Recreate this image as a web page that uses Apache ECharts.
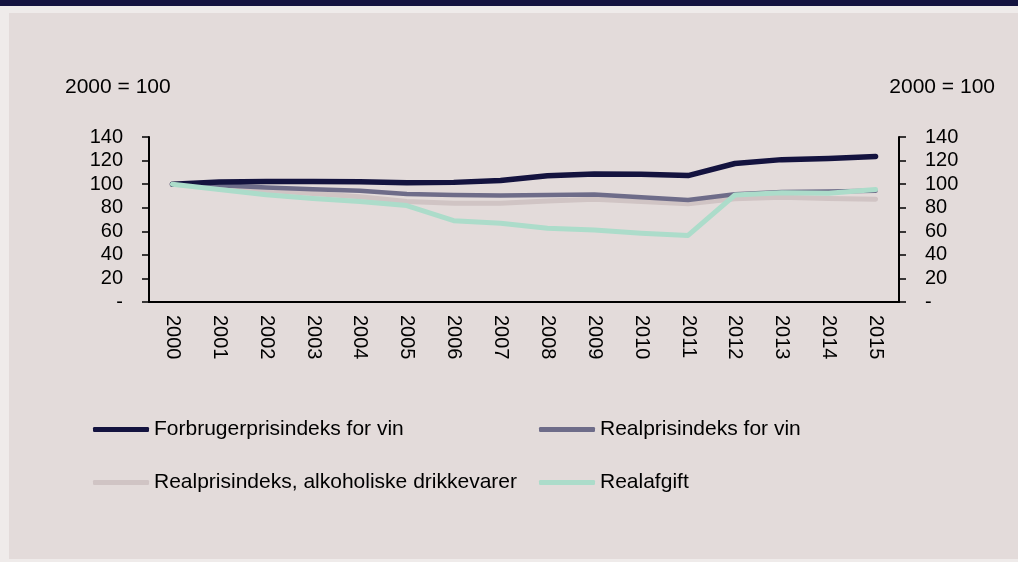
<!DOCTYPE html>
<html><head><meta charset="utf-8">
<script src="https://cdn.jsdelivr.net/npm/echarts@6/dist/echarts.min.js"></script>
<style>html,body{margin:0;padding:0;background:#efebea;}#c{width:1018px;height:562px;}</style>
</head><body><div id="c"></div>
<script>
const years = ['2000','2001','2002','2003','2004','2005','2006','2007','2008','2009','2010','2011','2012','2013','2014','2015'];
const forbrugerVin = [100, 101.8, 102.3, 102.3, 102, 101.2, 101.5, 103, 107.2, 108.6, 108.4, 107.3, 117.5, 120.8, 121.8, 123.5];
const realVin = [100, 99, 97.2, 95.6, 94.3, 91.6, 90.8, 90.4, 90.8, 91.2, 88.9, 86.5, 91.5, 93.3, 93.8, 94.3];
const realAlko = [100, 97.8, 94.8, 92, 89.3, 85.2, 83.8, 83.8, 85.7, 87.1, 85.2, 83.3, 87.5, 88.8, 87.9, 87.2];
const realafgift = [100, 95.5, 91, 87.8, 85.3, 81.8, 69, 66.8, 62.5, 61.1, 58.4, 56.5, 90.8, 92.8, 92.3, 95.4];
const yTicks = [0, 20, 40, 60, 80, 100, 120, 140];
const seriesNames = ['Forbrugerprisindeks for vin', 'Realprisindeks for vin', 'Realprisindeks, alkoholiske drikkevarer', 'Realafgift'];
const unitLabel = '2000 = 100';

const FONT = 'Liberation Sans, Arial, sans-serif';
const colors = {navy:'#14133f', gray:'#6e6c89', pale:'#d0c4c4', mint:'#acdcca'};

const chart = echarts.init(document.getElementById('c'), null, {renderer:'canvas'});
const yAxisBase = (pos) => ({
  type:'value', position:pos, min:yTicks[0], max:yTicks[yTicks.length-1], interval:20,
  axisLine:{show:true, lineStyle:{color:'#000', width:2}},
  axisTick:{show:true, inside:false, length:7, lineStyle:{color:'#000', width:1.5}},
  splitLine:{show:false},
  axisLabel:{color:'#000', fontFamily:FONT, fontSize:20, margin:26,
    align: pos==='left' ? 'right' : 'left',
    formatter:(v)=> v===0 ? '-' : String(v)}
});
const legendBase = (name, left, top) => ({
  data:[name], left:left, top:top, itemWidth:56, itemHeight:5, icon:'roundRect',
  textStyle:{color:'#000', fontFamily:FONT, fontSize:21}, padding:0, itemGap:0
});
const mkSeries = (name, data, color, width, z) => ({
  name:name, type:'line', data:data, symbol:'none', z:z,
  lineStyle:{color:color, width:width, cap:'round', join:'round'},
  itemStyle:{color:color}
});

chart.setOption({
  backgroundColor:'#efebea',
  animation:false,
  grid:{left:149, right:119, top:137, bottom:260, containLabel:false},
  xAxis:{type:'category', data:years, boundaryGap:true,
    axisLine:{show:true, lineStyle:{color:'#000', width:2}},
    axisTick:{show:false},
    axisLabel:{color:'#000', fontFamily:FONT, fontSize:20, rotate:-90, margin:13, interval:0}},
  yAxis:[yAxisBase('left'), yAxisBase('right')],
  legend:[
    legendBase(seriesNames[0], 93, 419),
    legendBase(seriesNames[1], 539, 419),
    legendBase(seriesNames[2], 93, 472),
    legendBase(seriesNames[3], 539, 472)
  ],
  graphic:[
    {type:'rect', z:-10, shape:{x:0, y:0, width:1018, height:6}, style:{fill:'#14133f'}},
    {type:'rect', z:-10, shape:{x:9, y:13, width:1009, height:546}, style:{fill:'#e3dbda'}},
    {type:'text', left:65, top:77, style:{text:unitLabel, font:'21px '+FONT, fill:'#000'}},
    {type:'text', right:23, top:77, style:{text:unitLabel, font:'21px '+FONT, fill:'#000'}}
  ],
  series:[
    mkSeries(seriesNames[2], realAlko, colors.pale, 5, 2),
    mkSeries(seriesNames[1], realVin, colors.gray, 4.5, 3),
    mkSeries(seriesNames[0], forbrugerVin, colors.navy, 5.5, 4),
    mkSeries(seriesNames[3], realafgift, colors.mint, 5, 5)
  ]
});
</script></body></html>
